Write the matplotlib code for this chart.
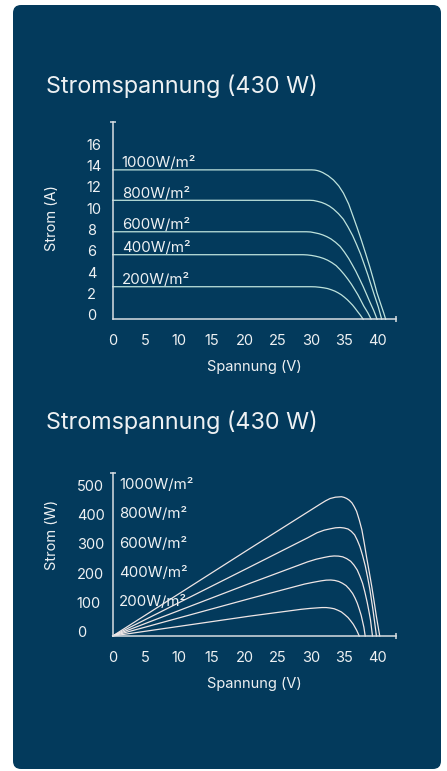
import matplotlib
matplotlib.use('Agg')
import matplotlib.pyplot as plt
from matplotlib.patches import FancyBboxPatch
from matplotlib.transforms import ScaledTranslation

plt.rcParams['font.family'] = ['Inter', 'DejaVu Sans']

# Beschriftungen
title = 'Stromspannung (430 W)'
irradiance = ['1000W/m²', '800W/m²', '600W/m²', '400W/m²', '200W/m²']
x_ticks = [0, 5, 10, 15, 20, 25, 30, 35, 40]
i_ticks = [0, 2, 4, 6, 8, 10, 12, 14, 16]
p_ticks = [0, 100, 200, 300, 400, 500]

# Strom-Spannung
iv_v_1000 = [0, 30.1, 30.6, 31.0, 31.4, 31.8, 32.6, 33.4, 34.2, 34.9, 35.7, 36.4, 37.0,
             37.6, 38.3, 38.9, 39.5, 40.0, 40.6, 41.0, 41.3]
iv_i_1000 = [14.0, 14.0, 13.98, 13.93, 13.85, 13.74, 13.45, 13.05, 12.5, 11.83, 10.8, 9.59,
             8.55, 7.45, 6.1, 4.9, 3.6, 2.45, 1.33, 0.6, 0]
iv_v_800 = [0, 29.8, 30.4, 31.0, 31.6, 32.2, 32.8, 33.4, 34.15, 34.9, 35.6, 36.3, 36.9,
            37.5, 38.05, 38.6, 39.1, 39.6, 39.9, 40.2, 40.45, 40.7]
iv_i_800 = [11.15, 11.15, 11.13, 11.05, 10.95, 10.8, 10.6, 10.33, 9.9, 9.37, 8.65, 7.84, 7.0,
            6.11, 5.15, 4.17, 3.2, 2.24, 1.68, 1.12, 0.56, 0]
iv_v_600 = [0, 29.3, 29.95, 30.6, 31.2, 31.8, 32.4, 33.0, 33.7, 34.4, 35.05, 35.7, 36.25,
            36.8, 37.35, 37.9, 38.4, 38.9, 39.2, 39.5, 39.75, 40.0]
iv_i_600 = [8.2, 8.2, 8.18, 8.1, 8.02, 7.9, 7.74, 7.54, 7.22, 6.83, 6.3, 5.7, 5.1,
            4.48, 3.78, 3.06, 2.35, 1.63, 1.22, 0.81, 0.41, 0]
iv_v_400 = [0, 28.8, 29.45, 30.1, 30.7, 31.3, 31.9, 32.5, 33.15, 33.8, 34.4, 35.0, 35.55,
            36.1, 36.6, 37.1, 37.55, 38.0, 38.3, 38.6, 38.85, 39.1]
iv_i_400 = [6.05, 6.05, 6.03, 5.98, 5.91, 5.82, 5.7, 5.54, 5.31, 5.03, 4.65, 4.22, 3.78,
            3.3, 2.8, 2.29, 1.76, 1.22, 0.92, 0.61, 0.31, 0]
iv_v_200 = [0, 30.0, 30.65, 31.3, 31.9, 32.5, 33.05, 33.6, 34.1, 34.6, 35.05, 35.5, 35.9,
            36.3, 36.65, 37.0, 37.25, 37.5, 37.7, 37.9]
iv_i_200 = [3.05, 3.05, 3.04, 3.0, 2.95, 2.88, 2.77, 2.64, 2.48, 2.29, 2.07, 1.83, 1.58,
            1.32, 1.05, 0.76, 0.56, 0.36, 0.18, 0]

# Leistung-Spannung
pv_v_1000 = [0, 20.8, 30.0, 31.4, 32.2, 32.9, 33.7, 34.6, 35.0, 35.4, 35.8, 36.2, 36.55,
             36.9, 37.3, 37.7, 38.05, 38.4, 38.8, 39.2, 39.55, 39.9, 40.15, 40.4]
pv_p_1000 = [0, 299, 430, 450, 461, 469, 473.5, 475, 473, 469, 463, 454, 441,
             425, 396, 362, 318, 270, 220, 168, 118, 66, 33, 0]
pv_v_800 = [0, 20.8, 29.5, 30.9, 32.0, 33.0, 33.7, 34.4, 35.0, 35.6, 36.1, 36.6, 37.0,
            37.4, 37.8, 38.2, 38.55, 38.9, 39.15, 39.4, 39.65, 39.9]
pv_p_800 = [0, 236, 335, 352, 361, 366, 369, 370, 368.5, 365, 357, 345, 327,
            305, 275, 240, 202, 160, 123, 85, 43, 0]
pv_v_600 = [0, 20.8, 29.5, 30.8, 32.0, 32.8, 33.5, 34.15, 34.8, 35.4, 36.0, 36.5, 37.0,
            37.4, 37.8, 38.15, 38.5, 38.75, 39.0, 39.15, 39.3]
pv_p_600 = [0, 180, 253, 262, 268, 271.5, 273, 272.5, 270, 264, 255, 242, 225,
            204, 180, 150, 115, 86, 55, 28, 0]
pv_v_400 = [0, 20.8, 29.0, 30.3, 31.5, 32.3, 33.0, 33.6, 34.2, 34.75, 35.3, 35.8, 36.3,
            36.65, 37.0, 37.3, 37.6, 37.8, 38.0, 38.1, 38.2]
pv_p_400 = [0, 128, 177, 183, 188, 190.5, 191, 189.5, 186, 180, 172, 160, 145,
            130, 112, 92, 70, 50, 30, 15, 0]
pv_v_200 = [0, 20.8, 28.5, 29.8, 31.0, 31.65, 32.3, 32.9, 33.5, 34.05, 34.6, 35.1, 35.6,
            36.0, 36.4, 36.65, 36.9, 37.1, 37.3]
pv_p_200 = [0, 68, 91, 94, 96, 97, 97, 95.5, 93, 88, 82, 73, 63,
            52, 40, 30, 20, 10, 0]

iv_curves = [(iv_v_1000, iv_i_1000), (iv_v_800, iv_i_800), (iv_v_600, iv_i_600),
             (iv_v_400, iv_i_400), (iv_v_200, iv_i_200)]
pv_curves = [(pv_v_1000, pv_p_1000), (pv_v_800, pv_p_800), (pv_v_600, pv_p_600),
             (pv_v_400, pv_p_400), (pv_v_200, pv_p_200)]

BG = '#033a5c'
TXT = '#eef1f3'
AXC = '#d9dee2'


def style_axes(ax, fig, xmax, ymax, yticks, ylabel, ylabel_y, ylab_pad, xlab_y):
    ax.set_facecolor('none')
    ax.set_xlim(0, xmax)
    ax.set_ylim(0, ymax)
    for s in ['top', 'right']:
        ax.spines[s].set_visible(False)
    for s in ['left', 'bottom']:
        ax.spines[s].set_color(AXC)
        ax.spines[s].set_linewidth(1.1)
    ax.set_xticks(x_ticks)
    ax.set_yticks(yticks)
    # kleine Endmarken an den Achsen
    ax.set_xticks([xmax], minor=True)
    ax.set_yticks([ymax], minor=True)
    ax.tick_params(which='major', length=0, labelsize=10.5, colors=TXT)
    ax.tick_params(axis='x', which='major', pad=15.8)
    ax.tick_params(axis='y', which='major', pad=ylab_pad)
    ax.tick_params(which='minor', length=4.5, width=1.1, direction='inout', color=AXC,
                   labelbottom=False, labelleft=False)
    for lbl in ax.get_xticklabels():
        lbl.set_va('center')
    shift = ScaledTranslation(0, 0.043, fig.dpi_scale_trans)
    for lbl in ax.get_yticklabels():
        lbl.set_ha('left')
        lbl.set_transform(lbl.get_transform() + shift)
    ax.set_xlabel('Spannung (V)', fontsize=10.5, color=TXT)
    ax.xaxis.set_label_coords(0.5, xlab_y)
    ax.xaxis.label.set_va('center')
    ax.set_ylabel(ylabel, fontsize=10.5, color=TXT)
    ax.yaxis.set_label_coords(-0.213, ylabel_y)
    ax.yaxis.label.set_va('center')


fig = plt.figure(figsize=(4.47, 7.71), dpi=100, facecolor='white')

panel = FancyBboxPatch((0.13, 0.02), 4.28, 7.64, boxstyle='round,pad=0,rounding_size=0.08',
                       transform=fig.dpi_scale_trans, facecolor=BG, edgecolor='none',
                       zorder=-10)
fig.patches.append(panel)

fig.text(46 / 447, 1 - 93 / 771, title, fontsize=16.8, color=TXT, ha='left', va='baseline')
fig.text(46 / 447, 1 - 429 / 771, title, fontsize=16.8, color=TXT, ha='left', va='baseline')

# Diagramm 1: Strom-Spannung
ax1 = fig.add_axes([0.2521, 0.5859, 0.6338, 0.2555])
for (v, i), name in zip(iv_curves, irradiance):
    ax1.plot(v, i, color='#bfe3dc', lw=0.9, clip_on=False)
    ax1.annotate(name, xy=(0, i[0]), xytext=(9, 2.5), textcoords='offset pixels',
                 fontsize=10.8, color=TXT, ha='left', va='baseline')
style_axes(ax1, fig, 42.86, 18.46, i_ticks, 'Strom (A)', 0.513, 18.7, -0.2437)

# Diagramm 2: Leistung-Spannung
ax2 = fig.add_axes([0.2521, 0.1751, 0.6338, 0.2118])
for v, p in pv_curves:
    ax2.plot(v, p, color='#efe6e6', lw=0.9, clip_on=False)
for name, yv in zip(irradiance, p_ticks[::-1]):
    ax2.annotate(name, xy=(0, yv), xytext=(6.5, 4.3), textcoords='offset pixels',
                 fontsize=10.8, color=TXT, ha='left', va='center')
style_axes(ax2, fig, 42.86, 557, p_ticks, 'Strom (W)', 0.618, 25.9, -0.294)

fig.savefig('out.png', dpi=100, facecolor='white')
